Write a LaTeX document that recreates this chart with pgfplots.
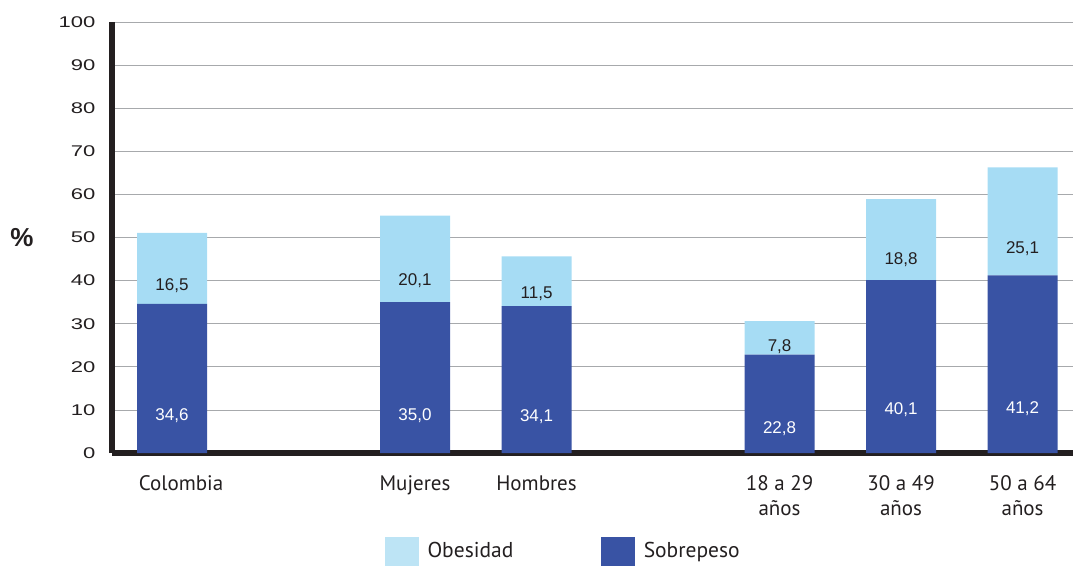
\documentclass[border=0pt]{standalone}
\usepackage{fontspec}
\setmainfont{Liberation Sans}
\newfontfamily\catfont{PT Sans}
\newfontfamily\tickfont[FakeStretch=1.42]{Liberation Sans}
\usepackage{pgfplots}
\usepackage{pgfplotstable}
\pgfplotsset{compat=1.18}

\definecolor{sobre}{HTML}{3953A4}
\definecolor{obes}{HTML}{A6DCF4}
\definecolor{obesleg}{HTML}{BDE4F5}
\definecolor{axisk}{HTML}{231F20}
\definecolor{gridc}{HTML}{A7A9AC}

% Sobrepeso (bottom segment)
\pgfplotstableread{
x y lbl
0 34.6 34,6
2 35.0 35,0
3 34.1 34,1
5 22.8 22,8
6 40.1 40,1
7 41.2 41,2
}\sobrepeso

% Obesidad (top segment)
\pgfplotstableread{
x y lbl
0 16.5 16,5
2 20.1 20,1
3 11.5 11,5
5 7.8 7,8
6 18.8 18,8
7 25.1 25,1
}\obesidad

% value labels moved from the top of each stacked segment to its middle
\pgfplotsset{
  seglabels/.style={
    nodes near coords={\pgfplotspointmeta},
    point meta=explicit symbolic,
    visualization depends on={rawy \as \rawy},
    every node near coord/.append style={anchor=center, yshift={-\rawy*1.0775pt},
      font=\fontsize{17}{20}\selectfont, text=#1},
  },
}

\begin{document}
\begin{tikzpicture}
\begin{axis}[
  scale only axis,
  width=961pt, height=431pt,
  xmin=-0.494, xmax=7.415,
  ymin=0, ymax=100,
  ybar stacked, bar width=70pt,
  axis lines=left,
  axis line style={-, line width=5.5pt, color=axisk},
  ytick={0,10,...,100},
  ymajorgrids,
  grid style={gridc, line width=0.8pt},
  major tick length=0pt,
  /pgf/number format/assume math mode=true,
  yticklabel style={font=\tickfont\fontsize{15.5}{18}\selectfont, text=axisk, xshift=-13pt},
  xtick={0,2,3,5,6,7},
  xticklabels={\hspace*{18pt}Colombia, Mujeres, Hombres, {18 a 29\\años}, {30 a 49\\años}, {50 a 64\\años}},
  xticklabel style={align=center, font=\catfont\fontsize{21}{25}\selectfont, text=axisk, yshift=-19pt},
  every axis y label/.style={at={(axis description cs:-0.0937,0.501)}, anchor=center, font=\bfseries\fontsize{26}{28}\selectfont, text=axisk},
  ylabel={\%},
  legend columns=2,
  legend style={at={(axis description cs:0.284,-0.2274)}, anchor=west, draw=none, fill=none, inner sep=0pt,
    font=\catfont\fontsize{21.5}{24}\selectfont, text=axisk,
    /tikz/every even column/.append style={column sep=86pt},
    /tikz/every odd column/.append style={column sep=7pt}},
]
\addlegendimage{legend image code/.code={\fill[obesleg] (0pt,-14pt) rectangle (33pt,14pt);}}
\addlegendentry{Obesidad}
\addlegendimage{legend image code/.code={\fill[sobre] (0pt,-14pt) rectangle (33pt,14pt);}}
\addlegendentry{Sobrepeso}

\addplot[forget plot, fill=sobre, draw=none, seglabels=white]
  table[x=x, y=y, meta=lbl] {\sobrepeso};
\addplot[forget plot, fill=obes, draw=none, seglabels=axisk]
  table[x=x, y=y, meta=lbl] {\obesidad};
\end{axis}
\pgfresetboundingbox
\path[use as bounding box] (-112pt,-113pt) rectangle (961pt,453pt);
\end{tikzpicture}
\end{document}
